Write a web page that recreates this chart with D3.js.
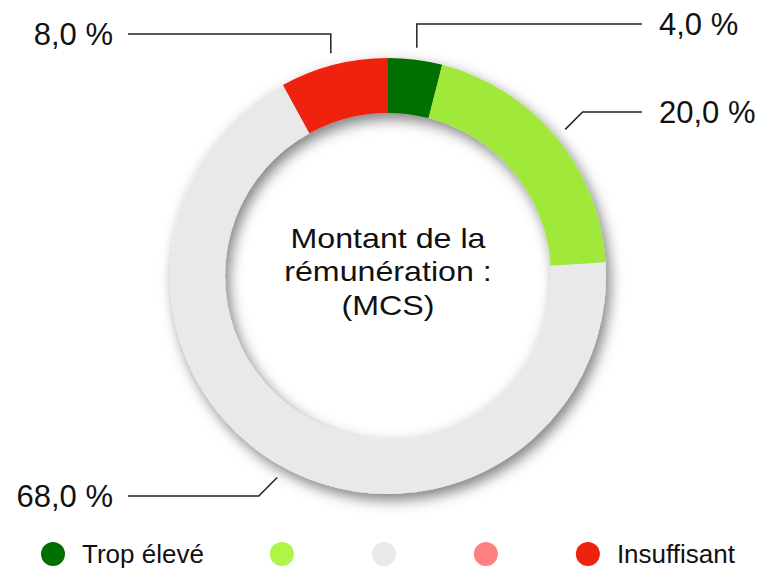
<!DOCTYPE html>
<html>
<head>
<meta charset="utf-8">
<script src="https://cdn.jsdelivr.net/npm/d3@7"></script>
<style>
  html, body { margin: 0; padding: 0; background: #fff; }
  svg { display: block; font-family: "Liberation Sans", Arial, Helvetica, sans-serif; }
</style>
</head>
<body>
<svg id="chart" width="764" height="569"></svg>
<script>
// ---- data ----
const categories = ["Trop élevé", "", "", "", "Insuffisant"];
const values = [4, 20, 68, 0, 8];
const colors = ["#006f00", "#a0e93b", "#e9e9e9", "#ff8080", "#ee220f"];
const legendColors = ["#007000", "#adf547", "#e9e9e9", "#ff8080", "#ee220f"];
const titleLines = ["Montant de la", "rémunération :", "(MCS)"];

// ---- layout ----
const W = 764, H = 569;
const cx = 388, cy = 276;
const outerR = 218, innerR = 163, leaderR = 230;
const labelY = [24, 112, 496, null, 34];
const elbowType = ["vertical", "diagonal", "diagonal", null, "vertical"];

const svg = d3.select("#chart");
const defs = svg.append("defs");
const f = defs.append("filter").attr("id", "shadow")
  .attr("x", "-20%").attr("y", "-20%").attr("width", "140%").attr("height", "140%");
f.append("feDropShadow").attr("dx", 4).attr("dy", 6).attr("stdDeviation", 7)
  .attr("flood-color", "#000").attr("flood-opacity", 0.5);

const fmt = v => d3.format(".1f")(v).replace(".", ",") + " %";

const pie = d3.pie().sort(null).value(d => d).startAngle(0).endAngle(2 * Math.PI);
const arcs = pie(values);
const arc = d3.arc().innerRadius(innerR).outerRadius(outerR);

const g = svg.append("g").attr("transform", `translate(${cx},${cy})`);
g.append("g").attr("filter", "url(#shadow)")
  .selectAll("path").data(arcs).join("path")
  .attr("d", arc)
  .attr("fill", (d, i) => colors[i]);

// center text
const tg = svg.append("g").attr("transform", `translate(${cx},0) scale(1.13,1)`);
tg.selectAll("text").data(titleLines).join("text")
  .attr("x", 0)
  .attr("y", (d, i) => 248 + i * 33.5)
  .attr("text-anchor", "middle")
  .attr("font-size", 28.5)
  .attr("fill", "#111")
  .text(d => d);

// leader lines + labels
const leader = svg.append("g");
arcs.forEach((d, i) => {
  if (d.value <= 0) return;
  const a = (d.startAngle + d.endAngle) / 2;
  const sx = cx + leaderR * Math.sin(a);
  const sy = cy - leaderR * Math.cos(a);
  const right = Math.sin(a) >= 0;
  const ly = labelY[i];
  let ex = sx;
  if (elbowType[i] === "diagonal") ex = sx + (right ? 1 : -1) * Math.abs(ly - sy);
  const endX = right ? 642 : 128;
  leader.append("path")
    .attr("d", d3.line()([[sx, sy], [ex, ly], [endX, ly]]))
    .attr("fill", "none")
    .attr("stroke", "#222")
    .attr("stroke-width", 1.5);
  leader.append("text")
    .attr("x", right ? 659 : 113)
    .attr("y", ly)
    .attr("dy", "0.36em")
    .attr("text-anchor", right ? "start" : "end")
    .attr("font-size", 31)
    .attr("fill", "#111")
    .text(fmt(d.value));
});

// legend
const lg = svg.append("g");
let lx = 53;
const legY = 554;
categories.forEach((c, i) => {
  lg.append("circle").attr("cx", lx).attr("cy", legY).attr("r", 12)
    .attr("fill", legendColors[i]);
  let tw = 0;
  if (c) {
    const t = lg.append("text")
      .attr("x", lx + 29).attr("y", legY).attr("dy", "0.36em")
      .attr("font-size", 26).attr("fill", "#111").text(c);
    tw = t.node().getComputedTextLength();
  }
  lx += 102 + (c ? tw + 5 : 0);
});
</script>
</body>
</html>
